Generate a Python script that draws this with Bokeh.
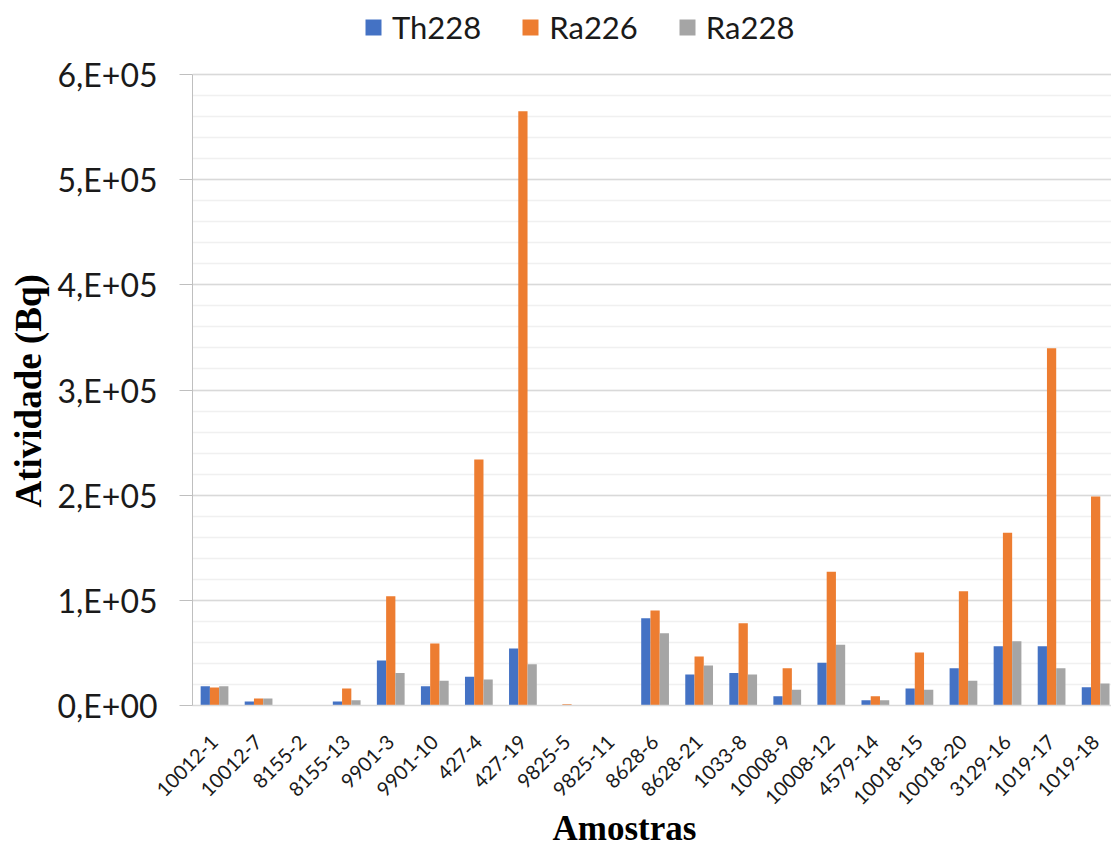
from bokeh.plotting import figure
from bokeh.models import Range1d, FixedTicker, Legend, LegendItem, Title, ColumnDataSource
from bokeh.transform import dodge
from bokeh.embed import file_html
from bokeh.resources import INLINE
import math

# Activity per sample (Bq)
samples = ["10012-1", "10012-7", "8155-2", "8155-13", "9901-3", "9901-10", "427-4",
           "427-19", "9825-5", "9825-11", "8628-6", "8628-21", "1033-8", "10008-9",
           "10008-12", "4579-14", "10018-15", "10018-20", "3129-16", "1019-17", "1019-18"]
th228 = [18400, 3800, 0, 3800, 42800, 18400, 27300, 54200, 0, 0, 83000, 29500,
         30800, 8900, 40600, 5100, 16200, 35500, 56400, 56400, 17400]
ra226 = [17100, 6700, 0, 16200, 104000, 59000, 234000, 565000, 1300, 0, 90400, 46600,
         78300, 35500, 127100, 8900, 50400, 108700, 164300, 339700, 198700]
ra228 = [18400, 6700, 0, 5100, 30800, 23500, 24700, 39300, 0, 0, 68800, 38000,
         29500, 14900, 57700, 5100, 14900, 23500, 61200, 35500, 20900]

series_names = ["Th228", "Ra226", "Ra228"]
series_colors = ["#4472C4", "#ED7D31", "#A5A5A5"]

y_max = 600000
y_ticks = [0, 100000, 200000, 300000, 400000, 500000, 600000]
y_tick_labels = ["0,E+00", "1,E+05", "2,E+05", "3,E+05", "4,E+05", "5,E+05", "6,E+05"]
y_minor = list(range(0, y_max + 1, 20000))

x_pos = [i + 0.5 for i in range(len(samples))]
src = ColumnDataSource(dict(x=x_pos, Th228=th228, Ra226=ra226, Ra228=ra228))

LABEL_FONT = "Lato"
TITLE_FONT = "Liberation Serif"

# The frame runs to the top of the canvas so the legend can sit above the
# value axis; the axis line itself stops at y_max.
W, H = 1111, 850
BOTTOM = 145
AXIS_TOP_PX = 74
frame_h = H - BOTTOM
axis_h = frame_h - AXIS_TOP_PX
y_top = y_max * frame_h / axis_h

p = figure(width=W, height=H, output_backend="svg", toolbar_location=None,
           x_range=Range1d(0, 20.86), y_range=Range1d(0, y_top),
           min_border_left=192, min_border_right=0, min_border_top=0,
           min_border_bottom=BOTTOM)
p.outline_line_color = None
p.background_fill_color = "white"
p.border_fill_color = "white"

bar_w = 0.21
offsets = [-bar_w, 0.0, bar_w]
renderers = []
for name, color, off in zip(series_names, series_colors, offsets):
    r = p.vbar(x=dodge("x", off, range=p.x_range), top=name, width=bar_w,
               source=src, fill_color=color, line_color=None)
    renderers.append(r)

# y axis
p.yaxis.bounds = (0, y_max)
p.yaxis.ticker = FixedTicker(ticks=y_ticks, minor_ticks=y_minor)
p.yaxis.major_label_overrides = {v: s for v, s in zip(y_ticks, y_tick_labels)}
p.yaxis.major_label_text_font = LABEL_FONT
p.yaxis.major_label_text_font_size = "32px"
p.yaxis.major_label_text_color = "#1a1a1a"
p.yaxis.major_label_standoff = 22
p.yaxis.major_tick_out = 13
p.yaxis.major_tick_in = 0
p.yaxis.minor_tick_out = 0
p.yaxis.minor_tick_in = 0
p.yaxis.major_tick_line_color = "#bfbfbf"
p.yaxis.axis_line_color = "#bfbfbf"

# y axis title, centred on the bounded part of the axis
ytitle = Title(text="Atividade (Bq)", align="left", offset=198, text_font=TITLE_FONT,
               text_font_style="bold", text_font_size="37px", text_color="#000000",
               standoff=11)
p.add_layout(ytitle, "left")

# x axis
p.xaxis.ticker = FixedTicker(ticks=x_pos)
p.xaxis.major_label_overrides = {x: s for x, s in zip(x_pos, samples)}
p.xaxis.major_label_orientation = math.pi / 4
p.xaxis.major_label_text_font = LABEL_FONT
p.xaxis.major_label_text_font_size = "20px"
p.xaxis.major_label_text_color = "#1a1a1a"
p.xaxis.major_label_standoff = 33
p.xaxis.major_tick_out = 0
p.xaxis.major_tick_in = 0
p.xaxis.minor_tick_out = 0
p.xaxis.minor_tick_in = 0
p.xaxis.axis_line_color = "#d9d9d9"
p.xaxis.axis_line_width = 1.5

# grid
p.xgrid.grid_line_color = None
p.ygrid.grid_line_color = "#d9d9d9"
p.ygrid.grid_line_width = 1.5
p.ygrid.minor_grid_line_color = "#f0f0f0"
p.ygrid.minor_grid_line_width = 1.5

# x axis title, placed in its own panel under the axis
xtitle = Title(text="Amostras", align="left", offset=360, text_font=TITLE_FONT,
               text_font_style="bold", text_font_size="35px", text_color="#000000",
               standoff=-16)
p.add_layout(xtitle, "below")

legend = Legend(items=[LegendItem(label=n, renderers=[r]) for n, r in zip(series_names, renderers)],
                orientation="horizontal", location=(171, frame_h - 46),
                label_text_font=LABEL_FONT, label_text_font_size="31px",
                label_text_color="#1a1a1a", glyph_width=20, glyph_height=20,
                label_standoff=9, spacing=39, padding=0, margin=0,
                border_line_color=None, background_fill_alpha=0)
p.add_layout(legend, "center")

open("out.html", "w").write(file_html(p, INLINE))
